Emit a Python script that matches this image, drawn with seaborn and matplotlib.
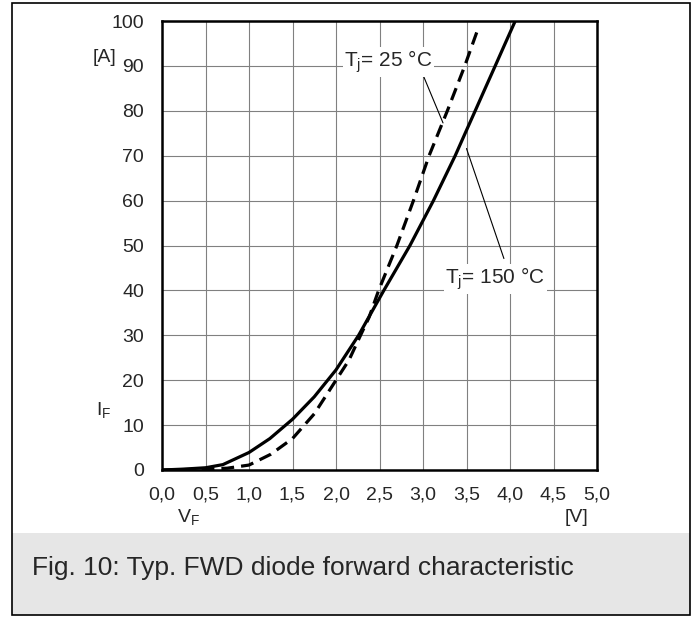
import matplotlib
matplotlib.use("Agg")
import matplotlib.pyplot as plt
import seaborn as sns
import pandas as pd
from matplotlib.patches import Rectangle

# forward characteristic
vf_25 = [0, 0.25, 0.5, 0.75, 1.0, 1.25, 1.5, 1.75, 2.0, 2.15, 2.27, 2.38, 2.49, 2.70, 2.89, 3.07, 3.28, 3.48, 3.62]
if_25 = [0, 0.1, 0.2, 0.4, 1.1, 3.5, 7, 12.5, 20, 24.5, 29.5, 34, 40, 50, 60, 70, 80, 90, 97.6]
vf_150 = [0, 0.25, 0.5, 0.7, 1.0, 1.24, 1.5, 1.75, 2.0, 2.26, 2.37, 2.55, 2.85, 3.12, 3.37,
          3.48, 3.60, 3.71, 3.83, 3.94, 4.06]
if_150 = [0, 0.2, 0.5, 1.2, 3.9, 7.0, 11.3, 16.3, 22.3, 30, 33.8, 40, 50, 60, 70,
          74.8, 80, 84.8, 90, 94.8, 100]

x_ticks = [0, 0.5, 1.0, 1.5, 2.0, 2.5, 3.0, 3.5, 4.0, 4.5, 5.0]
x_labels = ["0,0", "0,5", "1,0", "1,5", "2,0", "2,5", "3,0", "3,5", "4,0", "4,5", "5,0"]
y_ticks = [0, 10, 20, 30, 40, 50, 60, 70, 80, 90, 100]

df = pd.concat([
    pd.DataFrame({"V": vf_25, "I": if_25, "Tj": "25"}),
    pd.DataFrame({"V": vf_150, "I": if_150, "Tj": "150"}),
])

sns.set_style("white")
plt.rcParams["font.family"] = ["Liberation Sans", "DejaVu Sans"]
plt.rcParams["mathtext.fontset"] = "custom"
plt.rcParams["mathtext.rm"] = "Liberation Sans"
plt.rcParams["mathtext.it"] = "Liberation Sans"

W, H = 698, 617
fig = plt.figure(figsize=(W / 100, H / 100), dpi=100)

# outer frame and caption band
fig.patches.append(Rectangle((12 / W, 1 - 615 / H), 678 / W, 82 / H, transform=fig.transFigure,
                             facecolor="#e6e6e6", edgecolor="none", zorder=0))
fig.patches.append(Rectangle((12 / W, 1 - 615 / H), 678 / W, 612 / H, transform=fig.transFigure,
                             facecolor="none", edgecolor="black", linewidth=1.2, zorder=1))

ax = fig.add_axes([162 / W, 1 - 470 / H, 435 / W, 449 / H])
sns.lineplot(data=df, x="V", y="I", style="Tj", style_order=["25", "150"],
             dashes={"25": (4, 2.2), "150": ""}, color="black", linewidth=2.3,
             legend=False, ax=ax, sort=False)
for ln in ax.lines:
    ln.set_solid_joinstyle("round")
    ln.set_dash_joinstyle("round")

ax.set_xlim(0, 5)
ax.set_ylim(0, 100)
ax.set_xticks(x_ticks)
ax.set_xticklabels(x_labels)
ax.set_yticks(y_ticks)
ax.tick_params(length=0, labelsize=14)
ax.tick_params(axis="y", pad=13)
ax.tick_params(axis="x", pad=12)
ax.grid(True, color="#808080", linewidth=0.8)
ax.set_xlabel("")
ax.set_ylabel("")
for s in ax.spines.values():
    s.set_color("black")
    s.set_linewidth(1.8)

# curve labels with leader lines
bbox = dict(facecolor="white", edgecolor="none", pad=1)
ax.text(2.60, 90.9, r"T$_{\mathrm{j}}$= 25 °C", fontsize=15, ha="center", va="center", bbox=bbox)
ax.plot([3.0, 3.23], [88, 77.3], color="black", linewidth=0.8)
ax.text(3.83, 42.5, r"T$_{\mathrm{j}}$= 150 °C", fontsize=15, ha="center", va="center", bbox=bbox)
ax.plot([3.50, 3.93], [71.6, 47.1], color="black", linewidth=0.8)

fig.text(105 / W, 1 - 57 / H, "[A]", fontsize=14, ha="center", va="center")
fig.text(104 / W, 1 - 410 / H, r"I$_{\mathrm{F}}$", fontsize=14, ha="center", va="center")
fig.text(188 / W, 1 - 517 / H, r"V$_{\mathrm{F}}$", fontsize=14, ha="center", va="center")
fig.text(577 / W, 1 - 517 / H, "[V]", fontsize=14, ha="center", va="center")
fig.text(32 / W, 1 - 568 / H, "Fig. 10: Typ. FWD diode forward characteristic", fontsize=19,
         ha="left", va="center")

fig.savefig("out.png", dpi=100)
